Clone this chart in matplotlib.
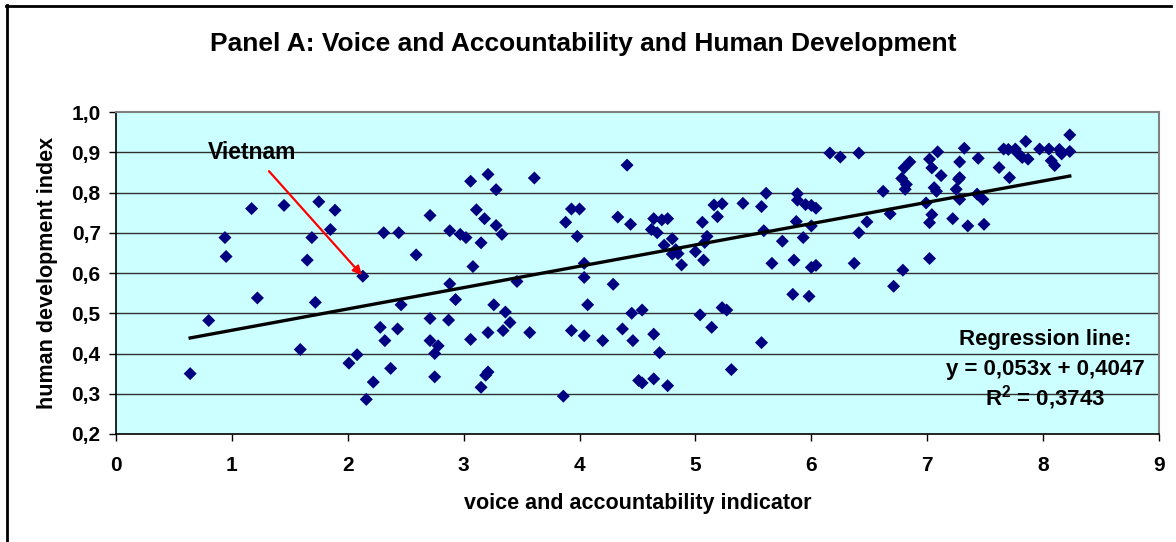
import matplotlib
matplotlib.use("Agg")
import matplotlib.pyplot as plt
import numpy as np

plt.rcParams['font.family'] = ['Liberation Sans', 'DejaVu Sans']

# voice and accountability indicator (x) and human development index (y)
va_x = [0.64, 0.80, 0.94, 0.95, 1.17, 1.22, 1.45, 1.59, 1.65, 1.69, 1.72, 1.75, 1.85, 1.89,
        2.01, 2.08, 2.13, 2.16, 2.22,
        2.28, 2.31, 2.32, 2.37, 2.43, 2.44, 2.46, 2.59, 2.71, 2.71, 2.71, 2.75, 2.75, 2.78,
        2.87, 2.88, 2.88, 2.93, 2.97, 3.02, 3.06, 3.06, 3.08, 3.11, 3.15, 3.15, 3.18, 3.19,
        3.21, 3.21, 3.21, 3.26, 3.28, 3.28, 3.33, 3.34, 3.36, 3.40, 3.46, 3.57, 3.61, 3.86,
        3.88, 3.93, 3.93, 3.98, 4.00, 4.04, 4.04, 4.04, 4.07, 4.20, 4.29, 4.33, 4.37, 4.41,
        4.44, 4.45, 4.46,
        4.51, 4.54, 4.54, 4.62, 4.64, 4.64, 4.64, 4.67, 4.69, 4.71, 4.73, 4.76, 4.76, 4.80,
        4.80, 4.83, 4.85, 4.88, 5.00, 5.04, 5.06, 5.07, 5.08, 5.10, 5.14, 5.16, 5.19, 5.23,
        5.23, 5.27, 5.31, 5.41, 5.57, 5.57, 5.59, 5.61, 5.66, 5.75, 5.84, 5.85, 5.87, 5.88,
        5.88, 5.93, 5.95, 5.98, 6.00, 6.00, 6.00, 6.04, 6.04, 6.16, 6.25, 6.37, 6.41, 6.41,
        6.48, 6.62, 6.68, 6.71,
        6.79, 6.78, 6.80, 6.82, 6.81, 6.85, 7.02, 6.99, 7.02, 7.04, 7.02, 7.04, 7.09, 7.06,
        7.08, 7.12, 7.22, 7.25, 7.27, 7.28, 7.28, 7.28, 7.32, 7.35, 7.43, 7.44, 7.48, 7.49,
        7.62, 7.66, 7.70, 7.71, 7.76, 7.78, 7.82, 7.85, 7.87, 7.97, 8.05, 8.07, 8.10, 8.14,
        8.16, 8.23, 8.23]
hdi_y = [0.350, 0.482, 0.688, 0.641, 0.760, 0.538, 0.768, 0.410, 0.632, 0.688, 0.527, 0.777, 0.708, 0.756,
         0.376, 0.397, 0.592, 0.286, 0.329,
         0.465, 0.700, 0.432, 0.363, 0.461, 0.700, 0.521, 0.645, 0.743, 0.487, 0.432, 0.400, 0.342, 0.419,
         0.483, 0.705, 0.573, 0.534, 0.696, 0.688, 0.828, 0.435, 0.616, 0.757, 0.675, 0.316, 0.735, 0.346,
         0.845, 0.452, 0.354, 0.521, 0.807, 0.718, 0.696, 0.457, 0.503, 0.477, 0.579, 0.452, 0.836, 0.294,
         0.726, 0.759, 0.457, 0.691, 0.759, 0.624, 0.589, 0.444, 0.521, 0.432, 0.572, 0.739, 0.461, 0.868,
         0.721, 0.500, 0.432,
         0.333, 0.508, 0.327, 0.708, 0.735, 0.448, 0.337, 0.700, 0.402, 0.732, 0.669, 0.735, 0.320, 0.685,
         0.647, 0.658, 0.648, 0.620, 0.653, 0.496, 0.726, 0.632, 0.676, 0.691, 0.465, 0.769, 0.740, 0.772,
         0.514, 0.508, 0.360, 0.773, 0.765, 0.427, 0.705, 0.798, 0.624, 0.679, 0.547, 0.632, 0.728, 0.797,
         0.781, 0.688, 0.770, 0.542, 0.614, 0.717, 0.768, 0.619, 0.761, 0.898, 0.888, 0.624, 0.898, 0.700,
         0.727, 0.803, 0.747, 0.567,
         0.607, 0.835, 0.861, 0.820, 0.808, 0.876, 0.636, 0.774, 0.725, 0.745, 0.883, 0.861, 0.901, 0.812,
         0.803, 0.842, 0.735, 0.808, 0.833, 0.837, 0.783, 0.876, 0.910, 0.717, 0.796, 0.885, 0.783, 0.721,
         0.862, 0.908, 0.907, 0.837, 0.908, 0.898, 0.887, 0.927, 0.883, 0.908, 0.908, 0.879, 0.867, 0.907,
         0.896, 0.943, 0.902]

# regression line parameters (as stated on chart)
slope = 0.053
intercept = 0.4047
r_squared = 0.3743
vietnam_x, vietnam_y = 2.13, 0.592

x_ticks = [0, 1, 2, 3, 4, 5, 6, 7, 8, 9]
y_ticks = [0.2, 0.3, 0.4, 0.5, 0.6, 0.7, 0.8, 0.9, 1.0]
y_tick_labels = ["0,2", "0,3", "0,4", "0,5", "0,6", "0,7", "0,8", "0,9", "1,0"]

fig = plt.figure(figsize=(11.76, 5.42), dpi=100)
ax = fig.add_axes([116 / 1176, 1 - 434 / 542, (1159 - 116) / 1176, (434 - 112) / 542])
ax.set_facecolor('#CCFFFF')

for yv in y_ticks[1:-1]:
    ax.axhline(yv, color='#303030', lw=1.0, zorder=1)

ax.scatter(va_x, hdi_y, marker='D', s=44, color='#000080', edgecolors='none', zorder=3)

xs = np.array([min(va_x), max(va_x)])
ax.plot(xs, slope * xs + intercept, color='black', lw=2.4, zorder=4)

ax.set_xlim(0, 9)
ax.set_ylim(0.2, 1.0)
ax.set_xticks(x_ticks)
ax.set_xticklabels([str(t) for t in x_ticks])
ax.set_yticks(y_ticks)
ax.set_yticklabels(y_tick_labels)
ax.tick_params(axis='both', direction='out', length=5, width=1, labelsize=15)
ax.tick_params(axis='x', pad=11)
ax.tick_params(axis='y', pad=6)
for lab in ax.get_xticklabels() + ax.get_yticklabels():
    lab.set_fontweight('bold')

for s in ['top', 'right']:
    ax.spines[s].set_color('#808080')
    ax.spines[s].set_linewidth(1.5)
for s in ['left', 'bottom']:
    ax.spines[s].set_color('black')
    ax.spines[s].set_linewidth(1.2)

ax.set_xlabel('voice and accountability indicator', fontsize=15.5, fontweight='bold', labelpad=13)
ax.set_ylabel('human development index', fontsize=15.5, fontweight='bold', labelpad=10)

fig.text(583 / 1176, 1 - 44 / 542, 'Panel A: Voice and Accountability and Human Development',
         ha='center', va='center', fontsize=19, fontweight='bold')

ax.text(0.79, 0.90, 'Vietnam', fontsize=16.5, fontweight='bold', ha='left', va='center', zorder=5)
ax.annotate('', xy=(vietnam_x, vietnam_y), xytext=(1.32, 0.853), zorder=5,
            arrowprops=dict(arrowstyle='-|>', color='red', lw=1.6, mutation_scale=13,
                            shrinkA=0, shrinkB=1))

ax.text(1045 / 1176, 1 - 340 / 542, 'Regression line:', transform=fig.transFigure,
        ha='center', va='center', fontsize=16, fontweight='bold', zorder=5)
ax.text(1045 / 1176, 1 - 369 / 542, 'y = 0,053x + 0,4047', transform=fig.transFigure,
        ha='center', va='center', fontsize=16, fontweight='bold', zorder=5)
ax.text(1045 / 1176, 1 - 398 / 542, r'R$^\mathregular{2}$ = 0,3743', transform=fig.transFigure,
        ha='center', va='center', fontsize=16, fontweight='bold', zorder=5)

# outer chart frame (top and left edges visible)
fig.add_artist(plt.Line2D([6 / 1176, 1171 / 1176], [1 - 5.5 / 542, 1 - 5.5 / 542],
                          transform=fig.transFigure, color='black', lw=2))
fig.add_artist(plt.Line2D([6.5 / 1176, 6.5 / 1176], [0, 1 - 5 / 542],
                          transform=fig.transFigure, color='black', lw=2))

fig.savefig('out.png', dpi=100)
